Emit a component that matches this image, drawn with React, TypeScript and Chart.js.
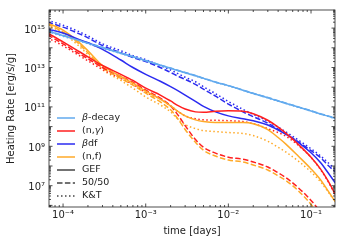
import React, { useEffect, useRef } from "react";
import { Chart, registerables } from "chart.js";

Chart.register(...registerables);

// ---------- data ----------
const times = [6.5e-5, 1e-4, 1.5e-4, 2e-4, 3e-4, 5e-4, 7e-4, 1e-3, 1.5e-3, 2e-3, 2.5e-3, 3e-3, 4e-3, 5e-3, 7e-3, 1e-2, 1.5e-2, 2e-2, 3e-2, 4e-2, 5e-2, 7e-2, 0.1, 0.13, 0.16, 0.2];

const betaGEF = [7.2e14, 4.1e14, 2.5e14, 1.7e14, 1.0e14, 5.3e13, 3.5e13, 2.2e13, 1.3e13, 9.1e12, 6.8e12, 5.4e12, 3.8e12, 2.8e12, 1.8e12, 1.2e12, 7.0e11, 4.8e11, 2.9e11, 2.0e11, 1.5e11, 9.8e10, 6.2e10, 4.4e10, 3.4e10, 2.5e10];
const beta5050 = [7.6e14, 4.3e14, 2.6e14, 1.8e14, 1.05e14, 5.5e13, 3.6e13, 2.3e13, 1.35e13, 9.4e12, 7.0e12, 5.6e12, 3.9e12, 2.9e12, 1.85e12, 1.23e12, 7.2e11, 4.9e11, 3.0e11, 2.05e11, 1.55e11, 1.0e11, 6.4e10, 4.5e10, 3.5e10, 2.6e10];
const betaKT = [6.6e14, 3.8e14, 2.35e14, 1.6e14, 9.6e13, 5.1e13, 3.4e13, 2.15e13, 1.27e13, 8.9e12, 6.7e12, 5.3e12, 3.7e12, 2.75e12, 1.77e12, 1.18e12, 6.9e11, 4.7e11, 2.85e11, 1.96e11, 1.47e11, 9.6e10, 6.1e10, 4.3e10, 3.35e10, 2.45e10];

const ngGEF = [5.6e14, 2.0e14, 7.1e13, 3.5e13, 1.26e13, 4.5e12, 2.2e12, 8.9e11, 4.0e11, 2.0e11, 1.12e11, 7.9e10, 5.6e10, 5.3e10, 6.0e10, 6.3e10, 6.0e10, 4.5e10, 2.1e10, 9.4e9, 4.5e9, 1.26e9, 2.8e8, 7.1e7, 1.8e7, 3.2e6];
const ng5050 = [4.5e14, 1.6e14, 5.6e13, 2.8e13, 1.0e13, 3.5e12, 1.8e12, 7.1e11, 2.8e11, 1.12e11, 3.5e10, 1.12e10, 2.2e9, 8.9e8, 4.5e8, 2.8e8, 2.2e8, 1.6e8, 8.9e7, 4.5e7, 2.5e7, 7.9e6, 1.8e6, 4.5e5, 1.12e5, 2.5e4];
const ngKT = [3.2e14, 1.26e14, 4.5e13, 2.2e13, 7.9e12, 2.8e12, 1.4e12, 5.6e11, 2.5e11, 1.12e11, 5.6e10, 3.5e10, 2.5e10, 2.2e10, 2.1e10, 2.0e10, 1.8e10, 1.4e10, 7.9e9, 5.0e9, 3.2e9, 1.12e9, 2.7e8, 6.7e7, 1.7e7, 3.0e6];

const bdfGEF = [8.9e14, 5.6e14, 2.8e14, 1.8e14, 8.4e13, 2.4e13, 1.0e13, 4.5e12, 2.0e12, 1.06e12, 6.3e11, 4.0e11, 1.9e11, 1.06e11, 5.6e10, 3.5e10, 2.5e10, 2.0e10, 1.2e10, 6.7e9, 4.0e9, 1.6e9, 4.7e8, 1.5e8, 4.7e7, 1.26e7];
const bdf5050 = [2.0e15, 1.12e15, 5.6e14, 3.2e14, 1.3e14, 5.6e13, 3.2e13, 2.0e13, 1.0e13, 5.6e12, 3.5e12, 2.5e12, 1.4e12, 7.9e11, 3.5e11, 1.4e11, 5.6e10, 3.2e10, 1.5e10, 7.5e9, 4.2e9, 1.7e9, 6.0e8, 2.7e8, 1.1e8, 4.7e7];
const bdfKT = [2.5e15, 1.4e15, 7.1e14, 4.0e14, 1.6e14, 7.1e13, 4.0e13, 2.5e13, 1.26e13, 7.5e12, 4.7e12, 3.2e12, 1.9e12, 1.06e12, 4.7e11, 1.9e11, 7.5e10, 4.2e10, 1.9e10, 9.4e9, 5.3e9, 2.1e9, 7.5e8, 3.3e8, 1.5e8, 6.0e7];

const nfGEF = [1.8e15, 7.9e14, 2.2e14, 7.1e13, 1.26e13, 3.5e12, 1.6e12, 6.3e11, 2.5e11, 1.12e11, 5.6e10, 3.5e10, 2.2e10, 1.8e10, 1.6e10, 1.6e10, 1.6e10, 1.4e10, 7.1e9, 2.8e9, 1.26e9, 3.2e8, 7.1e7, 2.0e7, 5.6e6, 1.4e6];
const nf5050 = [1.6e15, 6.3e14, 1.8e14, 5.6e13, 1.0e13, 2.8e12, 1.26e12, 5.0e11, 1.8e11, 7.1e10, 2.2e10, 7.1e9, 1.6e9, 6.3e8, 3.2e8, 2.0e8, 1.6e8, 1.12e8, 6.3e7, 3.2e7, 1.8e7, 5.6e6, 1.12e6, 2.5e5, 6.3e4, 1.4e4];
const nfKT = [1.4e15, 5.6e14, 1.4e14, 4.5e13, 7.9e12, 2.2e12, 8.9e11, 3.2e11, 1.26e11, 5.6e10, 2.2e10, 1.26e10, 7.9e9, 6.3e9, 5.6e9, 5.0e9, 4.5e9, 3.5e9, 1.8e9, 8.9e8, 5.0e8, 1.8e8, 5.0e7, 1.6e7, 5.0e6, 1.4e6];

const processLabels = ["β-decay", "(n,γ)", "βdf", "(n,f)"];
const processColors = ["#62aaee", "#ff1f1f", "#2b2bf0", "#ffaa28"];
const modelLabels = ["GEF", "50/50", "K&T"];
const modelDashes = [[], [5.5, 2.4], [1.5, 2.5]];
const modelColor = "#444444";

const xMin = 6.76e-5;
const xMax = 0.195;
const yMin = 8.3e5;
const yMax = 8.3e15;
const xLabelExps = [-4, -3, -2, -1];
const yLabelExps = [7, 9, 11, 13, 15];

const seriesByModel = [
  [betaGEF, ngGEF, bdfGEF, nfGEF],
  [beta5050, ng5050, bdf5050, nf5050],
  [betaKT, ngKT, bdfKT, nfKT],
];

const FONT = '"DejaVu Sans", "Liberation Sans", sans-serif';
const SUP: Record<string, string> = { "-": "⁻", "0": "⁰", "1": "¹", "2": "²", "3": "³", "4": "⁴", "5": "⁵", "6": "⁶", "7": "⁷", "8": "⁸", "9": "⁹" };
const toSup = (n: number) => String(n).split("").map((c) => SUP[c]).join("");

function decadeLabel(value: number, allowed: number[]) {
  const l = Math.log10(value);
  const e = Math.round(l);
  if (Math.abs(l - e) < 1e-6 && allowed.includes(e)) return "10" + toSup(e);
  return "";
}

function decades(min: number, max: number) {
  const out: { value: number }[] = [];
  for (let e = Math.floor(Math.log10(min)); e <= Math.ceil(Math.log10(max)); e++) {
    const v = Math.pow(10, e);
    if (v >= min && v <= max) out.push({ value: v });
  }
  return out;
}

function drawRich(ctx: CanvasRenderingContext2D, text: string, x: number, y: number, size: number) {
  let cx = x;
  for (const ch of text) {
    const greek = /[\u0370-\u03FF]/.test(ch);
    ctx.font = `${greek ? "italic " : ""}${size}px ${FONT}`;
    ctx.fillText(ch, cx, y);
    cx += ctx.measureText(ch).width;
  }
}

const decorPlugin = {
  id: "decor",
  afterDraw(chart: any) {
    const { ctx, chartArea: a, scales } = chart;
    const xs = scales.x;
    const ys = scales.y;
    ctx.save();
    ctx.strokeStyle = "#222";
    ctx.lineWidth = 0.8;
    const seg = (x1: number, y1: number, x2: number, y2: number) => {
      ctx.beginPath();
      ctx.moveTo(x1, y1);
      ctx.lineTo(x2, y2);
      ctx.stroke();
    };
    for (let e = Math.floor(Math.log10(xs.min)); e <= Math.ceil(Math.log10(xs.max)); e++) {
      for (let m = 1; m <= 9; m++) {
        const v = m * Math.pow(10, e);
        if (v < xs.min || v > xs.max) continue;
        const px = xs.getPixelForValue(v);
        const len = m === 1 ? 3.5 : 2;
        seg(px, a.bottom, px, a.bottom - len);
        seg(px, a.top, px, a.top + len);
      }
    }
    for (let e = Math.floor(Math.log10(ys.min)); e <= Math.ceil(Math.log10(ys.max)); e++) {
      for (let m = 1; m <= 9; m++) {
        const v = m * Math.pow(10, e);
        if (v < ys.min || v > ys.max) continue;
        const py = ys.getPixelForValue(v);
        const len = m === 1 ? 3.5 : 2;
        seg(a.left, py, a.left + len, py);
        seg(a.right, py, a.right - len, py);
      }
    }
    ctx.strokeRect(a.left, a.top, a.right - a.left, a.bottom - a.top);

    // legend
    const lx0 = a.left + 8;
    const lx1 = a.left + 26;
    const tx = a.left + 33;
    let ly = a.top + 108;
    const rowH = 13;
    const items = [
      ...processLabels.map((l, i) => ({ label: l, color: processColors[i], dash: [] as number[] })),
      ...modelLabels.map((l, i) => ({ label: l, color: modelColor, dash: modelDashes[i] })),
    ];
    ctx.textBaseline = "middle";
    ctx.fillStyle = "#222";
    for (const it of items) {
      ctx.strokeStyle = it.color;
      ctx.lineWidth = 1.5;
      ctx.setLineDash(it.dash);
      seg(lx0, ly, lx1, ly);
      ctx.setLineDash([]);
      drawRich(ctx, it.label, tx, ly, 9.5);
      ly += rowH;
    }
    ctx.restore();
  },
};

export default function App() {
  const ref = useRef<HTMLCanvasElement>(null);
  useEffect(() => {
    const datasets: any[] = [];
    seriesByModel.forEach((group, mi) => {
      group.forEach((vals, pi) => {
        datasets.push({
          label: `${processLabels[pi]} ${modelLabels[mi]}`,
          data: times.map((t, i) => ({ x: t, y: vals[i] })),
          borderColor: processColors[pi],
          borderWidth: 1.5,
          borderDash: modelDashes[mi],
          pointRadius: 0,
          fill: false,
          cubicInterpolationMode: "monotone",
        });
      });
    });
    const chart = new Chart(ref.current as HTMLCanvasElement, {
      type: "line",
      data: { datasets },
      options: {
        animation: false,
        responsive: false,
        devicePixelRatio: 1,
        layout: { padding: { top: 7, right: 8, left: 0, bottom: 0 } },
        plugins: { legend: { display: false }, tooltip: { enabled: false } },
        scales: {
          x: {
            type: "logarithmic",
            min: xMin,
            max: xMax,
            grid: { display: false, drawTicks: false },
            border: { display: false },
            afterBuildTicks: (s: any) => { s.ticks = decades(s.min, s.max); },
            afterFit: (s: any) => { s.height = 38; },
            ticks: {
              autoSkip: false,
              maxRotation: 0,
              padding: 2,
              color: "#222",
              font: { family: FONT, size: 10 },
              callback: (v: any) => decadeLabel(Number(v), xLabelExps),
            },
            title: {
              display: true,
              text: "time [days]",
              color: "#222",
              font: { family: FONT, size: 10 },
              padding: { top: 0, bottom: 8 },
            },
          },
          y: {
            type: "logarithmic",
            min: yMin,
            max: yMax,
            grid: { display: false, drawTicks: false },
            border: { display: false },
            afterBuildTicks: (s: any) => { s.ticks = decades(s.min, s.max); },
            afterFit: (s: any) => { s.width = 49; },
            ticks: {
              autoSkip: false,
              padding: 4,
              labelOffset: 2,
              color: "#222",
              font: { family: FONT, size: 10 },
              callback: (v: any) => decadeLabel(Number(v), yLabelExps),
            },
            title: {
              display: true,
              text: "Heating Rate [erg/s/g]",
              color: "#222",
              font: { family: FONT, size: 10 },
              padding: { top: 5, bottom: 0 },
            },
          },
        },
      },
      plugins: [decorPlugin],
    } as any);
    return () => chart.destroy();
  }, []);
  return (
    <div style={{ position: "absolute", left: 0, top: 0, width: 343, height: 245, background: "#fff" }}>
      <canvas ref={ref} width={343} height={245} style={{ display: "block", width: 343, height: 245 }} />
    </div>
  );
}
